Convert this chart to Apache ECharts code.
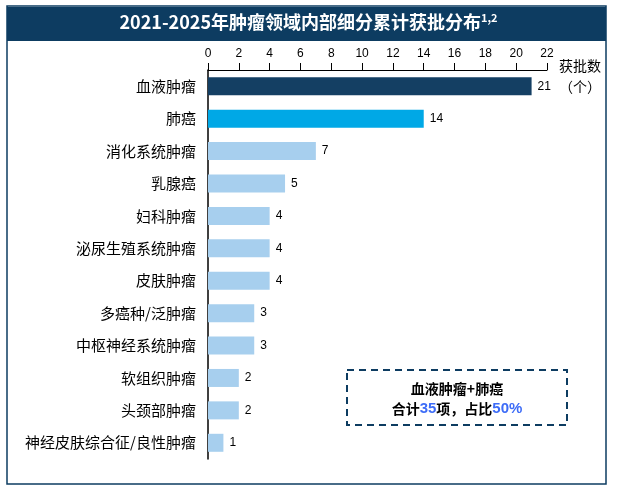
<!DOCTYPE html>
<html>
<head>
    <meta charset="utf-8">
    <title>肿瘤领域内部细分累计获批分布</title>
    <style>
        html, body { margin: 0; padding: 0; background: #fff; }
        #main { width: 617px; height: 489px; }
    </style>
</head>
<body>
    <div id="main"></div>
    <script src="https://cdn.jsdelivr.net/npm/echarts@6/dist/echarts.min.js"></script>
    <script>
        // 数据
        var categories = ['血液肿瘤', '肺癌', '消化系统肿瘤', '乳腺癌', '妇科肿瘤', '泌尿生殖系统肿瘤',
            '皮肤肿瘤', '多癌种/泛肿瘤', '中枢神经系统肿瘤', '软组织肿瘤', '头颈部肿瘤', '神经皮肤综合征/良性肿瘤'];
        var counts = [21, 14, 7, 5, 4, 4, 4, 3, 3, 2, 2, 1];
        var xTicks = [0, 2, 4, 6, 8, 10, 12, 14, 16, 18, 20, 22];

        var barColors = ['#143f63', '#00a8e6'];
        var lightBar = '#a7cfee';
        var cjk = '"Noto Sans CJK SC", sans-serif';

        var chart = echarts.init(document.getElementById('main'));
        var option = {
            animation: false,
            textStyle: { fontFamily: cjk },
            grid: { left: 208, right: 70, top: 70, bottom: 30 },
            xAxis: {
                type: 'value',
                position: 'top',
                min: xTicks[0],
                max: xTicks[xTicks.length - 1],
                interval: 2,
                axisLine: { show: true, lineStyle: { color: '#000', width: 1 } },
                axisTick: { show: true, length: 7, lineStyle: { color: '#000' } },
                axisLabel: { color: '#000', fontSize: 12, margin: 10, fontFamily: 'Liberation Sans' },
                splitLine: { show: false }
            },
            yAxis: {
                type: 'category',
                inverse: true,
                data: categories,
                axisLine: { show: true, lineStyle: { color: '#000', width: 1.5 } },
                axisTick: { show: false },
                axisLabel: { color: '#000', fontSize: 15, margin: 12 }
            },
            series: [{
                type: 'bar',
                data: counts.map(function (v, i) {
                    return { value: v, itemStyle: { color: barColors[i] || lightBar } };
                }),
                barWidth: 18,
                label: {
                    show: true,
                    position: 'right',
                    distance: 6,
                    color: '#000',
                    fontSize: 12,
                    fontFamily: 'Liberation Sans'
                }
            }],
            graphic: [
                {
                    type: 'rect', z: -1,
                    shape: { x: 7, y: 6, width: 599, height: 478 },
                    style: { fill: 'none', stroke: '#0d3c61', lineWidth: 1.5 }
                },
                {
                    type: 'rect',
                    shape: { x: 7, y: 7, width: 599, height: 34 },
                    style: { fill: '#0d3c61' }
                },
                {
                    type: 'text', left: 'center', top: 12,
                    style: {
                        text: '{t|2021-2025年肿瘤领域内部细分累计获批分布}{s|1,2}',
                        rich: {
                            t: { fill: '#fff', fontSize: 18, fontWeight: 'bold', fontFamily: cjk },
                            s: { fill: '#fff', fontSize: 11, fontWeight: 'bold', verticalAlign: 'top', padding: [0, 0, 9, 0], fontFamily: cjk }
                        }
                    }
                },
                {
                    type: 'text', x: 580, y: 76,
                    style: {
                        text: '获批数\n（个）', fill: '#000', fontSize: 14, lineHeight: 21,
                        align: 'center', verticalAlign: 'middle', fontFamily: cjk
                    }
                },
                {
                    type: 'rect',
                    shape: { x: 347, y: 370, width: 220, height: 55 },
                    style: { fill: '#fff', stroke: '#0d3c61', lineWidth: 2, lineDash: [7, 5] }
                },
                {
                    type: 'text', x: 457, y: 389,
                    style: {
                        text: '血液肿瘤+肺癌', fill: '#000', fontSize: 14, fontWeight: 'bold',
                        align: 'center', verticalAlign: 'middle', fontFamily: cjk
                    }
                },
                {
                    type: 'text', x: 457, y: 409,
                    style: {
                        text: '{k|合计}{n|35}{k|项，占比}{n|50%}',
                        align: 'center', verticalAlign: 'middle',
                        rich: {
                            k: { fill: '#000', fontSize: 14, fontWeight: 'bold', fontFamily: cjk },
                            n: { fill: '#3d6cf7', fontSize: 15, fontWeight: 'bold', fontFamily: 'Liberation Sans' }
                        }
                    }
                }
            ]
        };
        chart.setOption(option);
    </script>
</body>
</html>
